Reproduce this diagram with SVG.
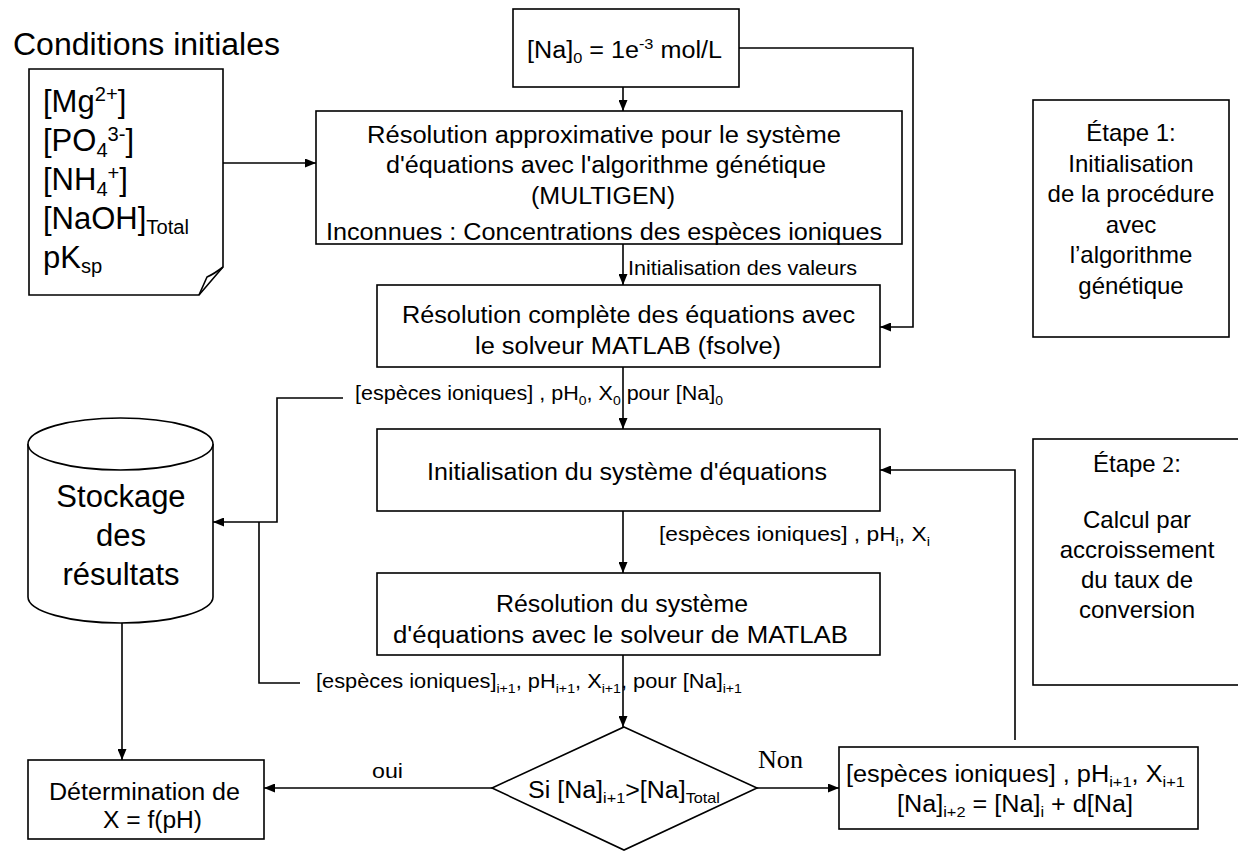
<svg xmlns="http://www.w3.org/2000/svg" width="1238" height="852" viewBox="0 0 1238 852">
<defs>
<marker id="ah" markerUnits="userSpaceOnUse" markerWidth="11" markerHeight="9" refX="11" refY="4.5" orient="auto"><path d="M0,0 L11,4.5 L0,9 z" fill="#000"/></marker>
</defs>
<style>
text{font-family:"Liberation Sans",Arial,sans-serif;fill:#000}
.box{fill:#fff;stroke:#000;stroke-width:1.6}
.c{fill:none;stroke:#000;stroke-width:1.6}
.a{marker-end:url(#ah)}
.m{font-size:23px}
.l{font-size:20px}
.e{font-size:24px;text-anchor:middle}
.big{font-size:31px}
.s{font-size:65%}
.tm{font-family:"Liberation Serif","Times New Roman",serif}
</style>
<rect width="1238" height="852" fill="#fff"/>

<g id="conditions">
<text class="big" x="13" y="55" textLength="267" lengthAdjust="spacingAndGlyphs">Conditions initiales</text>
<path class="box" d="M29,69 H223 V267 L199,295 H29 Z"/>
<path class="c" d="M223,267 Q214,274 207,277 L199,295"/>
<text class="big" x="43" y="112">[Mg<tspan class="s" dy="-11">2+</tspan><tspan dy="11">]</tspan></text>
<text class="big" x="43" y="151">[PO<tspan class="s" dy="6">4</tspan><tspan class="s" dy="-16">3-</tspan><tspan dy="10">]</tspan></text>
<text class="big" x="43" y="190">[NH<tspan class="s" dy="6">4</tspan><tspan class="s" dy="-16">+</tspan><tspan dy="10">]</tspan></text>
<text class="big" x="43" y="229">[NaOH]<tspan class="s" dy="5">Total</tspan></text>
<text class="big" x="43" y="268">pK<tspan class="s" dy="5">sp</tspan></text>
</g>

<g id="na0">
<rect class="box" x="513" y="9" width="226" height="78"/>
<text class="m" x="527" y="58" textLength="195" lengthAdjust="spacingAndGlyphs">[Na]<tspan class="s" dy="5">0</tspan><tspan dy="-5"> = 1e</tspan><tspan class="s" dy="-9">-3</tspan><tspan dy="9"> mol/L</tspan></text>
</g>

<g id="approx">
<rect class="box" x="316" y="111" width="586" height="133"/>
<text class="m" x="367" y="143" textLength="474" lengthAdjust="spacingAndGlyphs">Résolution approximative pour le  système</text>
<text class="m" x="386" y="173" textLength="440" lengthAdjust="spacingAndGlyphs">d'équations avec l'algorithme génétique</text>
<text class="m" x="531" y="204" textLength="144" lengthAdjust="spacingAndGlyphs">(MULTIGEN)</text>
<text class="m" x="326" y="240" textLength="556" lengthAdjust="spacingAndGlyphs">Inconnues : Concentrations des espèces ioniques</text>
</g>

<g id="complete">
<rect class="box" x="377" y="285" width="503" height="82"/>
<text class="m" x="402" y="323" textLength="453" lengthAdjust="spacingAndGlyphs">Résolution complète des équations avec</text>
<text class="m" x="475" y="354" textLength="306" lengthAdjust="spacingAndGlyphs">le solveur MATLAB (fsolve)</text>
</g>

<g id="init">
<rect class="box" x="377" y="429" width="503" height="82"/>
<text class="m" x="427" y="480" textLength="400" lengthAdjust="spacingAndGlyphs">Initialisation du système d'équations</text>
</g>

<g id="resol">
<rect class="box" x="377" y="573" width="503" height="82"/>
<text class="m" x="496" y="612" textLength="252" lengthAdjust="spacingAndGlyphs">Résolution du système</text>
<text class="m" x="393" y="643" textLength="455" lengthAdjust="spacingAndGlyphs">d'équations avec le solveur de MATLAB</text>
</g>

<g id="stockage">
<path class="box" d="M28,444 V597 A92.5,26 0 0 0 213,597 V444"/>
<ellipse class="box" cx="120.5" cy="444" rx="92.5" ry="26"/>
<text class="big" x="121" y="507" text-anchor="middle">Stockage</text>
<text class="big" x="121" y="546" text-anchor="middle">des</text>
<text class="big" x="121" y="585" text-anchor="middle">résultats</text>
</g>

<g id="determination">
<rect class="box" x="28" y="760" width="236" height="79"/>
<text class="m" x="49" y="800" textLength="191" lengthAdjust="spacingAndGlyphs">Détermination de</text>
<text class="m" x="103" y="828" textLength="99" lengthAdjust="spacingAndGlyphs">X = f(pH)</text>
</g>

<g id="decision">
<path class="box" d="M624,727 L757,788 L624,850 L492,788 Z"/>
<text class="m" x="528" y="798" textLength="192" lengthAdjust="spacingAndGlyphs">Si [Na]<tspan class="s" dy="5">i+1</tspan><tspan dy="-5">&gt;[Na]</tspan><tspan class="s" dy="5">Total</tspan></text>
</g>

<g id="update">
<rect class="box" x="839" y="747" width="359" height="82"/>
<text class="m" x="846" y="782" textLength="339" lengthAdjust="spacingAndGlyphs">[espèces ioniques] , pH<tspan class="s" dy="5">i+1</tspan><tspan dy="-5">, X</tspan><tspan class="s" dy="5">i+1</tspan></text>
<text class="m" x="897" y="812" textLength="236" lengthAdjust="spacingAndGlyphs">[Na]<tspan class="s" dy="5">i+2</tspan><tspan dy="-5"> = [Na]</tspan><tspan class="s" dy="5">i</tspan><tspan dy="-5"> + d[Na]</tspan></text>
</g>

<g id="etape1">
<rect class="box" x="1033" y="100" width="196" height="237"/>
<text class="e" x="1131" y="141">Étape 1:</text>
<text class="e" x="1131" y="172">Initialisation</text>
<text class="e" x="1131" y="202">de la procédure</text>
<text class="e" x="1131" y="233">avec</text>
<text class="e" x="1131" y="263">l’algorithme</text>
<text class="e" x="1131" y="294">génétique</text>
</g>

<g id="etape2">
<rect class="box" x="1033" y="439" width="210" height="246"/>
<text class="e" x="1137" y="472">Étape <tspan class="tm">2</tspan>:</text>
<text class="e" x="1137" y="528">Calcul par</text>
<text class="e" x="1137" y="558">accroissement</text>
<text class="e" x="1137" y="588">du taux de</text>
<text class="e" x="1137" y="618">conversion</text>
</g>

<g id="connectors">
<path class="c a" d="M223,163 H316"/>
<path class="c a" d="M623,87 V111"/>
<path class="c a" d="M739,48 H913 V327 H880"/>
<path class="c a" d="M623,244 V285"/>
<path class="c a" d="M623,367 V429"/>
<path class="c a" d="M343,398 H277 V522 H213"/>
<path class="c a" d="M623,511 V573"/>
<path class="c a" d="M623,655 V727"/>
<path class="c" d="M300,683 H259 V522"/>
<path class="c a" d="M122,623 V760"/>
<path class="c a" d="M492,788 H264"/>
<path class="c a" d="M757,788 H839"/>
<path class="c a" d="M1015,740 V470 H880"/>
<text class="l" x="628" y="275" textLength="229" lengthAdjust="spacingAndGlyphs">Initialisation des valeurs</text>
<text class="l" x="355" y="400" textLength="368" lengthAdjust="spacingAndGlyphs">[espèces ioniques] , pH<tspan class="s" dy="5">0</tspan><tspan dy="-5">, X</tspan><tspan class="s" dy="5">0</tspan><tspan dy="-5"> pour [Na]</tspan><tspan class="s" dy="5">0</tspan></text>
<text style="font-size:21px" x="659" y="541" textLength="271" lengthAdjust="spacingAndGlyphs">[espèces ioniques] , pH<tspan class="s" dy="5">i</tspan><tspan dy="-5">, X</tspan><tspan class="s" dy="5">i</tspan></text>
<text class="l" x="316" y="688" textLength="426" lengthAdjust="spacingAndGlyphs">[espèces ioniques]<tspan class="s" dy="5">i+1</tspan><tspan dy="-5">, pH</tspan><tspan class="s" dy="5">i+1</tspan><tspan dy="-5">, X</tspan><tspan class="s" dy="5">i+1</tspan><tspan dy="-5">, pour [Na]</tspan><tspan class="s" dy="5">i+1</tspan></text>
<text style="font-size:21px" x="372" y="778" textLength="31" lengthAdjust="spacingAndGlyphs">oui</text>
<text class="tm" style="font-size:25px" x="758" y="768" textLength="45" lengthAdjust="spacingAndGlyphs">Non</text>
</g>
</svg>
